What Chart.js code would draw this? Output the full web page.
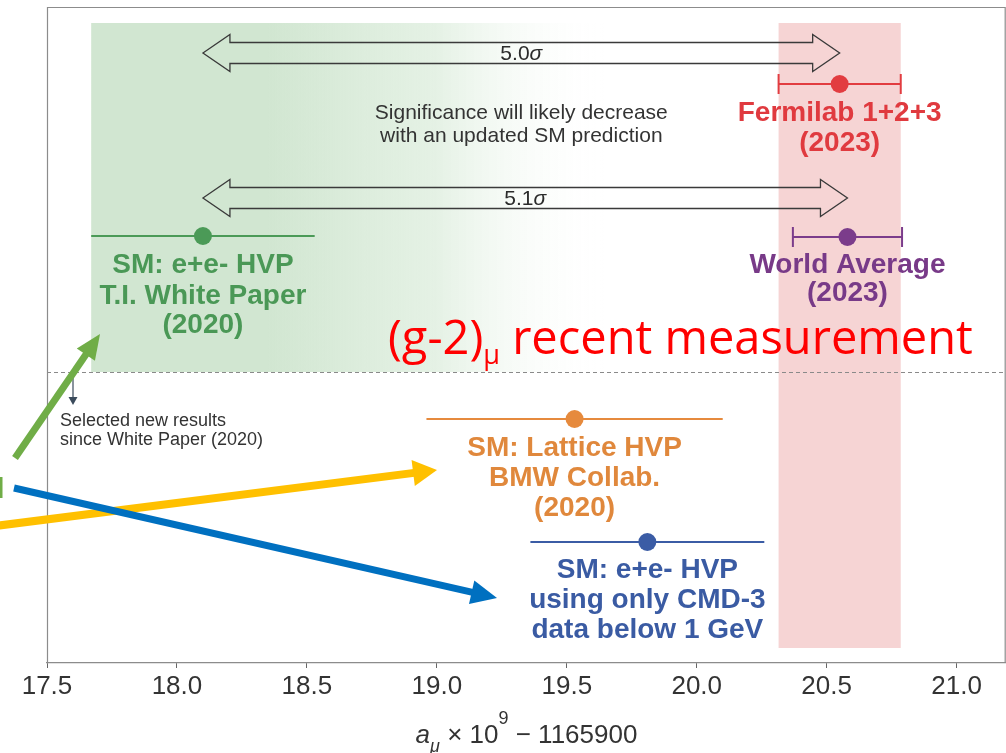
<!DOCTYPE html>
<html><head><meta charset="utf-8">
<script src="https://cdn.jsdelivr.net/npm/chart.js@4.4.0/dist/chart.umd.min.js"></script>
<style>html,body{margin:0;padding:0;background:#fff}#wrap{width:1006px;height:753px;position:relative}</style>
</head><body><div id="wrap"><canvas id="c" width="1006" height="753"></canvas></div>
<script>
// ---------------- data ----------------
const labelLines = [
  ['Fermilab 1+2+3', '(2023)'],
  ['World Average', '(2023)'],
  ['SM: e+e- HVP', 'T.I. White Paper', '(2020)'],
  ['SM: Lattice HVP', 'BMW Collab.', '(2020)'],
  ['SM: e+e- HVP', 'using only CMD-3', 'data below 1 GeV']
];
const centralValues = [20.55, 20.58, 18.10, 19.53, 19.81];
const errors = [0.235, 0.21, 0.43, 0.57, 0.45];
const sigmaLabels = ['5.0\u03c3', '5.1\u03c3'];
const tickValues = [17.5, 18.0, 18.5, 19.0, 19.5, 20.0, 20.5, 21.0];
const tickLabels = ['17.5', '18.0', '18.5', '19.0', '19.5', '20.0', '20.5', '21.0'];
const xMin = 17.5, xMax = 21.19;

// ---------------- layout / style ----------------
const rowY = [77, 230, 229, 412, 535];           // vertical row of each result (offset below plot top)
const labelRowY = [[106, 136], [258, 286], [258, 289, 318], [441, 471, 501], [563, 593, 623]];
const capped = [true, true, false, false, false];
const colors = ['#e23c40', '#7b3c8b', '#4b9a57', '#e68a3d', '#3b5ca5'];
const textColors = ['#e03a3f', '#783a88', '#4a9856', '#e0883c', '#3a5ba3'];
const fam = '"Liberation Sans"';

function txt(ctx, s, x, y, font, color, align, base) {
  ctx.font = font; ctx.fillStyle = color;
  ctx.textAlign = align || 'center'; ctx.textBaseline = base || 'middle';
  ctx.fillText(s, x, y);
}
function hollowDoubleArrow(ctx, x1, x2, yc, sh, hh, hl) {
  ctx.beginPath();
  ctx.moveTo(x1, yc);
  ctx.lineTo(x1 + hl, yc - hh); ctx.lineTo(x1 + hl, yc - sh);
  ctx.lineTo(x2 - hl, yc - sh); ctx.lineTo(x2 - hl, yc - hh);
  ctx.lineTo(x2, yc);
  ctx.lineTo(x2 - hl, yc + hh); ctx.lineTo(x2 - hl, yc + sh);
  ctx.lineTo(x1 + hl, yc + sh); ctx.lineTo(x1 + hl, yc + hh);
  ctx.closePath();
  ctx.strokeStyle = '#3a3a3a'; ctx.lineWidth = 1.3; ctx.stroke();
}
function solidArrow(ctx, x1, y1, x2, y2, w, hl, hw, color) {
  const dx = x2 - x1, dy = y2 - y1, L = Math.hypot(dx, dy), ux = dx / L, uy = dy / L;
  const bx = x2 - ux * hl, by = y2 - uy * hl;
  ctx.save();
  ctx.strokeStyle = color; ctx.fillStyle = color; ctx.lineWidth = w; ctx.lineCap = 'butt';
  ctx.beginPath(); ctx.moveTo(x1, y1); ctx.lineTo(bx + ux, by + uy); ctx.stroke();
  ctx.beginPath(); ctx.moveTo(x2, y2);
  ctx.lineTo(bx - uy * hw / 2, by + ux * hw / 2);
  ctx.lineTo(bx + uy * hw / 2, by - ux * hw / 2);
  ctx.closePath(); ctx.fill();
  ctx.restore();
}

const decor = {
  id: 'decor',
  beforeDatasetsDraw(chart) {
    const { ctx, chartArea: a, scales: { x, y } } = chart;
    ctx.save();
    // green SM band with fade
    const gL = x.getPixelForValue(centralValues[2] - errors[2]);
    const gTop = y.getPixelForValue(16), gBot = y.getPixelForValue(365);
    const g0 = x.getPixelForValue(18.35), g1 = x.getPixelForValue(19.65);
    const grad = ctx.createLinearGradient(g0, 0, g1, 0);
    grad.addColorStop(0, 'rgba(209,230,209,1)');
    grad.addColorStop(0.5, 'rgba(220,237,220,0.75)');
    grad.addColorStop(1, 'rgba(255,255,255,0)');
    ctx.fillStyle = grad;
    ctx.fillRect(gL, gTop, g1 - gL, gBot - gTop);
    // Fermilab band
    const pL = x.getPixelForValue(centralValues[0] - errors[0]);
    const pR = x.getPixelForValue(centralValues[0] + errors[0]);
    ctx.fillStyle = '#f6d4d4';
    ctx.fillRect(pL, gTop, pR - pL, y.getPixelForValue(641) - gTop);
    // dashed separator
    ctx.strokeStyle = '#8a8a8a'; ctx.lineWidth = 1; ctx.setLineDash([4, 3]);
    ctx.beginPath(); ctx.moveTo(a.left, gBot + 0.5); ctx.lineTo(a.right, gBot + 0.5); ctx.stroke();
    ctx.setLineDash([]);
    // frame
    ctx.strokeStyle = '#8c8c8c'; ctx.lineWidth = 1.2;
    ctx.beginPath();
    ctx.moveTo(a.left + 0.5, a.bottom); ctx.lineTo(a.left + 0.5, a.top + 0.5);
    ctx.lineTo(a.right - 0.8, a.top + 0.5); ctx.lineTo(a.right - 0.8, a.bottom);
    ctx.stroke();
    // significance arrows
    const xs = x.getPixelForValue(centralValues[2]);
    const xf = x.getPixelForValue(centralValues[0]);
    const xw = x.getPixelForValue(centralValues[1]);
    const y1 = y.getPixelForValue(46), y2 = y.getPixelForValue(191);
    hollowDoubleArrow(ctx, xs, xf, y1, 10.5, 18.5, 27);
    hollowDoubleArrow(ctx, xs, xw, y2, 10.5, 18.5, 27);
    const drawSigma = (s, cx, cy) => {
      const nf = '21px ' + fam, itf = 'italic 21px ' + fam;
      ctx.font = nf;
      const num = s.slice(0, -1), sig = s.slice(-1);
      const w1 = ctx.measureText(num).width;
      ctx.font = itf;
      const w2 = ctx.measureText(sig).width;
      const sx = cx - (w1 + w2) / 2;
      txt(ctx, num, sx, cy, nf, '#2b2b2b', 'left');
      txt(ctx, sig, sx + w1, cy, itf, '#2b2b2b', 'left');
    };
    drawSigma(sigmaLabels[0], (xs + xf) / 2, y1 + 1);
    drawSigma(sigmaLabels[1], (xs + xw) / 2, y2 + 1);
    const sf = '21px ' + fam;
    txt(ctx, 'Significance will likely decrease', (xs + xf) / 2, y.getPixelForValue(106), sf, '#333');
    txt(ctx, 'with an updated SM prediction', (xs + xf) / 2, y.getPixelForValue(129), sf, '#333');
    // selected new results note
    const nx = a.left + 26;
    ctx.strokeStyle = '#3b4b5c'; ctx.fillStyle = '#3b4b5c'; ctx.lineWidth = 1.2;
    ctx.beginPath(); ctx.moveTo(nx, gBot + 1); ctx.lineTo(nx, gBot + 27); ctx.stroke();
    ctx.beginPath(); ctx.moveTo(nx - 4.5, gBot + 25); ctx.lineTo(nx + 4.5, gBot + 25); ctx.lineTo(nx, gBot + 33); ctx.closePath(); ctx.fill();
    txt(ctx, 'Selected new results', a.left + 13, y.getPixelForValue(414), '18px ' + fam, '#333', 'left');
    txt(ctx, 'since White Paper (2020)', a.left + 13, y.getPixelForValue(433), '18px ' + fam, '#333', 'left');
    ctx.restore();
  },
  afterDatasetsDraw(chart) {
    const { ctx, chartArea: a, scales: { x, y } } = chart;
    ctx.save();
    labelLines.forEach((lines, i) => {
      const cx = x.getPixelForValue(centralValues[i]);
      lines.forEach((s, j) => {
        txt(ctx, s, cx, y.getPixelForValue(labelRowY[i][j]), 'bold 28px ' + fam, textColors[i]);
      });
    });
    // red annotation text
    const rf = '47px "Open Sans"';
    let px = 388; const base = 354;
    txt(ctx, '(g-2)', px, base, rf, '#ff0000', 'left', 'alphabetic');
    ctx.font = rf; px += ctx.measureText('(g-2)').width;
    txt(ctx, '\u03bc', px, base + 10, '27px "Open Sans"', '#ff0000', 'left', 'alphabetic');
    ctx.font = '27px "Open Sans"'; px += ctx.measureText('\u03bc').width;
    txt(ctx, ' recent measurement', px, base, rf, '#ff0000', 'left', 'alphabetic');
    // slide arrows
    ctx.fillStyle = '#70ad47'; ctx.fillRect(0, 477, 2.5, 21);
    solidArrow(ctx, 15, 458, 100, 334, 7, 25, 22, '#70ad47');
    solidArrow(ctx, -5, 526, 437, 470, 8, 24, 26, '#ffc000');
    solidArrow(ctx, 14, 488, 497, 598, 7, 26, 24, '#0070c0');
    // x axis title
    const cx = (a.left + a.right) / 2, by = 743;
    const big = '26px ' + fam, small = '18px ' + fam;
    const parts = [
      ['a', 'italic ' + big, 0], ['\u03bc', 'italic ' + small, 9], [' \u00d7 10', big, 0],
      ['9', small, -19], [' \u2212 1165900', big, 0]
    ];
    let tw = 0;
    parts.forEach(p => { ctx.font = p[1]; tw += ctx.measureText(p[0]).width; });
    let tx = cx - tw / 2;
    parts.forEach(p => {
      txt(ctx, p[0], tx, by + p[2], p[1], '#333', 'left', 'alphabetic');
      ctx.font = p[1]; tx += ctx.measureText(p[0]).width;
    });
    ctx.restore();
  }
};

const datasets = [{
  data: centralValues.map((v, i) => ({ x: v, y: rowY[i] })),
  pointBackgroundColor: colors, pointBorderWidth: 0, pointRadius: 9, pointHoverRadius: 9, showLine: false
}];
centralValues.forEach((v, i) => {
  datasets.push({
    data: [{ x: v - errors[i], y: rowY[i] }, { x: v + errors[i], y: rowY[i] }],
    showLine: true, borderColor: colors[i], borderWidth: 2,
    pointStyle: 'line', rotation: 90, pointRadius: capped[i] ? 10 : 0, pointHoverRadius: capped[i] ? 10 : 0,
    pointBorderColor: colors[i], pointBorderWidth: 2
  });
});

new Chart(document.getElementById('c'), {
  type: 'scatter',
  data: { datasets },
  options: {
    responsive: false, animation: false, events: [],
    layout: { autoPadding: false, padding: { left: 47, top: 7, right: 0, bottom: 0 } },
    plugins: { legend: { display: false }, tooltip: { enabled: false } },
    scales: {
      x: {
        type: 'linear', min: xMin, max: xMax,
        afterBuildTicks: s => { s.ticks = tickValues.map(v => ({ value: v })); },
        afterFit: s => { s.height = 90; s.paddingLeft = 0; s.paddingRight = 0; },
        ticks: {
          callback: v => tickLabels[tickValues.indexOf(v)],
          font: { family: 'Liberation Sans', size: 26 }, color: '#333', padding: 3, maxRotation: 0, autoSkip: false
        },
        grid: { drawOnChartArea: false, drawTicks: true, tickLength: 5, color: '#666' },
        border: { display: true, color: '#8c8c8c', width: 1.2 }
      },
      y: { type: 'linear', min: 0, max: 656, reverse: true, display: false }
    }
  },
  plugins: [decor]
});
</script>
</body></html>
